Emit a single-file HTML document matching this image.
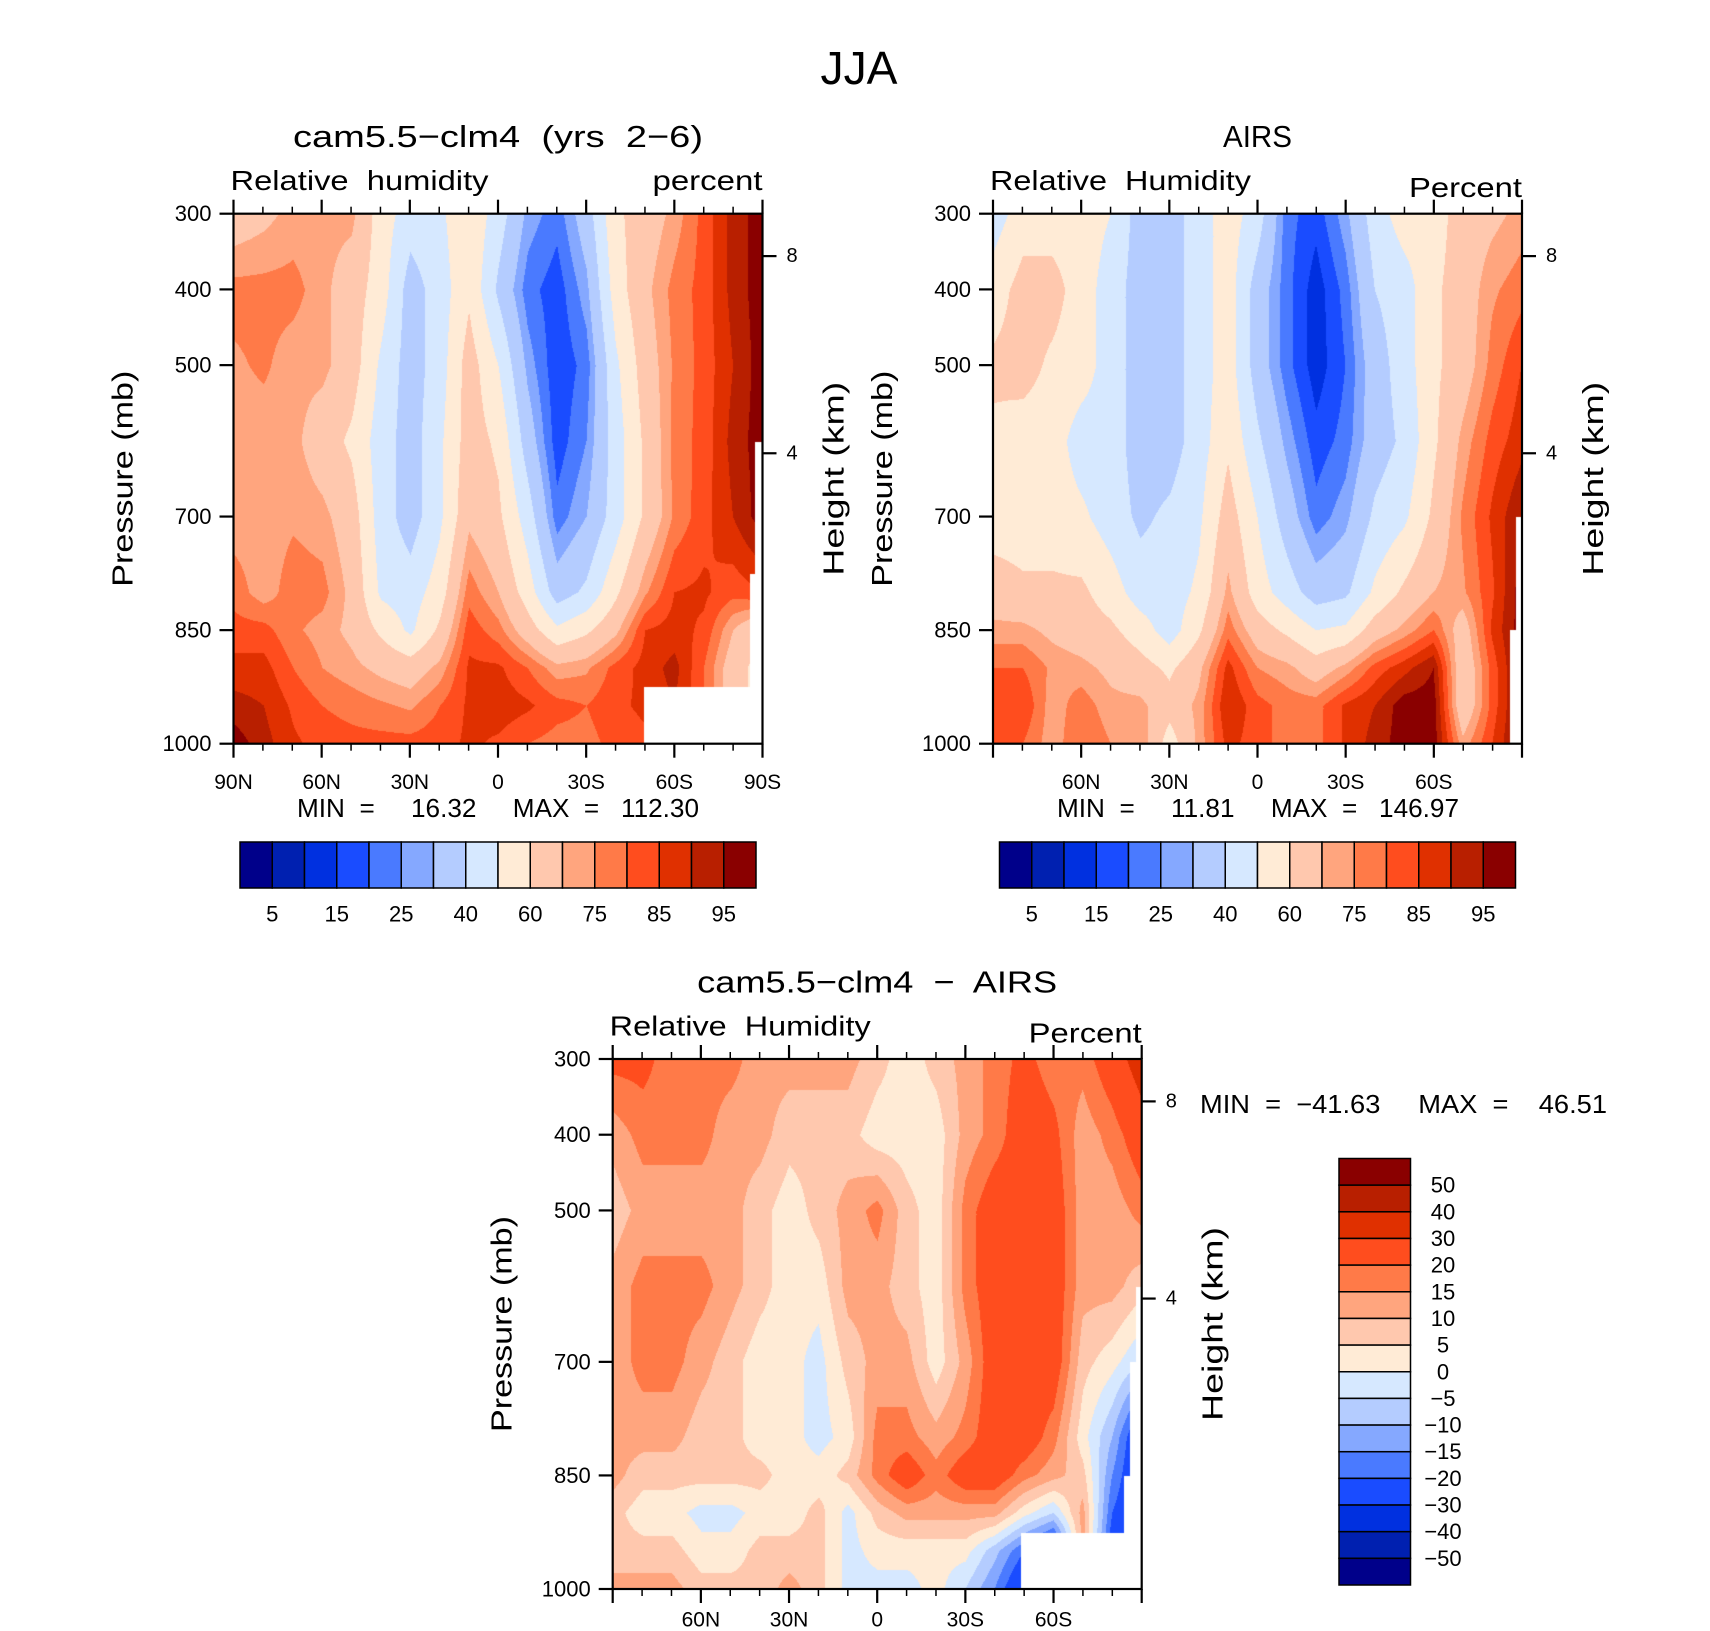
<!DOCTYPE html>
<html><head><meta charset="utf-8">
<style>
html,body{margin:0;padding:0;background:#fff;}
#root{position:relative;width:1710px;height:1631px;overflow:hidden;background:#fff;}
canvas{position:absolute;}
svg{position:absolute;left:0;top:0;}
svg text{font-family:"Liberation Sans",sans-serif;fill:#000;white-space:pre;}
</style></head>
<body>
<div id="root">
<canvas id="c1"></canvas>
<canvas id="c2"></canvas>
<canvas id="c3"></canvas>
<svg id="svg" width="1710" height="1631" xmlns="http://www.w3.org/2000/svg"></svg>
</div>
<script>
// ---- data ----
const lats = [90,80,70,60,50,40,30,20,10,0,-10,-20,-30,-40,-50,-60,-70,-80,-90];
const pressures = [300,400,500,600,700,800,850,900,950,1000];
const absLevels = [5,10,15,20,25,30,40,50,60,70,75,80,85,90,95];
const diffLevels = [-50,-40,-30,-20,-15,-10,-5,0,5,10,15,20,30,40,50];
const palette = ["#00008a","#0020b0","#0030e0","#1a4cff","#4a7aff","#85a8ff","#b4ccff","#d6e8ff","#ffebd6","#ffc8ae","#ffa57e","#ff7a48","#ff4d1e","#e03000","#b81f00","#8a0000"];
const absBarLabels = ["5","15","25","40","60","75","85","95"];
const diffBarLabels = ["50","40","30","20","15","10","5","0","\u22125","\u221210","\u221215","\u221220","\u221230","\u221240","\u221250"];
const latTickLabels = ["90N","60N","30N","0","30S","60S","90S"];
const latTickValues = [90,60,30,0,-30,-60,-90];
const pressureTicks = [300,400,500,700,850,1000];
const heightTicks = [8,4];
// model values: columns (lat 90N..90S), each listing pressures 300..1000
const modelValues = [
[65,77,74,72,72,78,82,87,92,98],
[68,77,76,72,72,72,82,87,90,92],
[72,77,72,72,74,78,76,80,84,86],
[72,72,72,65,72,77,73,75,80,83],
[72,65,65,58,65,68,68,72,78,82],
[55,55,48,45,45,48,58,68,76,82],
[45,35,35,35,35,45,48,65,74,82],
[48,45,45,48,48,55,62,72,80,83],
[58,58,65,65,68,78,83,86,86,86],
[45,38,50,58,62,70,77,86,88,84],
[28,22,28,35,45,55,65,80,86,80],
[22,17,16,17,22,35,52,72,82,78],
[35,28,22,25,30,42,58,74,80,78],
[58,55,48,45,45,58,68,82,84,82],
[65,68,65,62,62,74,85,87,86,84],
[72,77,76,77,76,85,87,92,90,88],
[82,82,82,82,83,86,84,80,80,80],
[92,92,90,92,90,82,70,65,65,65],
[98,98,98,98,98,85,60,55,55,55]];
const airsValues = [
[45,55,62,58,55,65,72,80,80,80],
[55,64,64,55,55,62,72,80,85,80],
[55,64,58,55,55,62,68,74,72,72],
[55,55,55,45,52,62,65,72,78,80],
[50,45,45,45,45,55,62,68,72,75],
[35,35,35,35,38,45,55,64,72,75],
[35,35,35,35,42,45,45,58,64,55],
[45,45,45,45,48,52,58,68,72,72],
[55,55,55,58,65,72,78,87,90,87],
[45,35,35,42,50,55,65,75,82,82],
[22,22,22,28,35,45,58,72,78,78],
[17,12,12,17,22,35,50,65,78,78],
[28,22,20,22,28,38,52,72,86,86],
[45,40,35,35,42,52,65,82,90,92],
[55,45,45,42,48,62,72,88,98,98],
[55,58,58,58,62,70,80,95,98,98],
[65,65,65,72,76,74,65,62,62,72],
[68,74,77,82,86,84,86,82,82,85],
[72,78,85,88,95,98,98,98,98,98]];
const diffValues = [
[22,12,7,12,12,12,12,7,7,12],
[22,17,12,17,17,12,7,2,7,12],
[17,17,12,17,17,12,7,2,7,12],
[17,17,12,17,12,7,7,-2,2,7],
[17,12,12,12,7,7,7,-2,2,7],
[12,12,7,7,2,2,7,2,7,7],
[12,7,2,2,2,2,2,2,7,12],
[12,7,7,2,-2,-2,2,7,7,7],
[12,7,12,12,7,2,7,-2,-2,-2],
[7,2,17,12,12,17,17,7,2,-2],
[2,2,7,7,12,17,25,12,2,-2],
[7,2,2,2,2,12,17,12,2,2],
[12,12,17,17,12,17,25,12,2,-5],
[17,17,25,25,25,25,25,12,-8,-15],
[22,25,25,25,25,25,17,2,-20,-30],
[17,22,25,25,25,17,12,-5,-30,-35],
[17,12,12,12,7,2,7,12,12,12],
[25,17,12,12,2,-10,-15,-20,-25,-25],
[35,25,17,7,-5,-30,-30,-30,-30,-30]];
// missing-data (below-ground) regions: [lat edge, pressure top]
const maskModel = [[-49.7,925],[-85.7,776],[-87.3,601]];
const maskAirs = [[-86,850],[-88,700]];
const maskDiff = [[-49,927],[-84,851],[-86,700],[-88.2,601]];

// ---- layout ----
const P1 = {x:233.5,y:213.7,w:529,h:530};
const P2 = {x:993,y:213.7,w:529,h:530};
const P3 = {x:612.7,y:1059,w:529,h:530};
const NS="http://www.w3.org/2000/svg";
const svg=document.getElementById('svg');

function xOf(P,lat){return P.x+(90-lat)/180*P.w;}
function yOf(P,p){return P.y+(p-300)/700*P.h;}
function pFromH(h){return 1013.25*Math.pow(1-2.25577e-5*h*1000,5.25588);}

function bin(levels,v){let k=0;while(k<levels.length&&v>=levels[k])k++;return k;}
function hex(c){return [parseInt(c.substr(1,2),16),parseInt(c.substr(3,2),16),parseInt(c.substr(5,2),16)];}
const rgb=palette.map(hex);

function drawField(id,P,vals,levels,mask){
  const cv=document.getElementById(id);
  const W=Math.round(P.w),H=Math.round(P.h);
  cv.width=W;cv.height=H;cv.style.left=P.x+'px';cv.style.top=P.y+'px';
  const ctx=cv.getContext('2d');const img=ctx.createImageData(W,H);
  for(let py=0;py<H;py++){
    const p=300+py/(H-1)*700;
    let j=0;while(j<pressures.length-2&&p>pressures[j+1])j++;
    const ty=(p-pressures[j])/(pressures[j+1]-pressures[j]);
    for(let px=0;px<W;px++){
      const fx=px/(W-1)*(lats.length-1);
      let i=Math.min(Math.floor(fx),lats.length-2);const tx=fx-i;
      const v=(vals[i][j]*(1-tx)+vals[i+1][j]*tx)*(1-ty)+(vals[i][j+1]*(1-tx)+vals[i+1][j+1]*tx)*ty;
      const lat=90-px/(W-1)*180;
      let masked=false;
      for(const m of mask){if(lat<=m[0]&&p>=m[1])masked=true;}
      const o=(py*W+px)*4;
      if(masked){img.data[o]=255;img.data[o+1]=255;img.data[o+2]=255;}
      else{const c=rgb[bin(levels,v)];img.data[o]=c[0];img.data[o+1]=c[1];img.data[o+2]=c[2];}
      img.data[o+3]=255;
    }
  }
  ctx.putImageData(img,0,0);
}
drawField('c1',P1,modelValues,absLevels,maskModel);
drawField('c2',P2,airsValues,absLevels,maskAirs);
drawField('c3',P3,diffValues,diffLevels,maskDiff);

function line(x1,y1,x2,y2,w,name){
  const l=document.createElementNS(NS,'line');
  l.setAttribute('x1',x1);l.setAttribute('y1',y1);l.setAttribute('x2',x2);l.setAttribute('y2',y2);
  l.setAttribute('stroke','#000');l.setAttribute('stroke-width',w);
  
  
  svg.appendChild(l);return l;
}
function text(x,y,s,size,anchor,name,len,rot){
  const t=document.createElementNS(NS,'text');
  t.setAttribute('x',x);t.setAttribute('y',y);t.setAttribute('font-size',size);
  t.setAttribute('text-anchor',anchor);t.setAttribute('dominant-baseline','central');
  if(len){t.setAttribute('textLength',len);t.setAttribute('lengthAdjust','spacingAndGlyphs');}
  if(rot){t.setAttribute('transform','rotate('+rot+' '+x+' '+y+')');}
  t.textContent=s;
  
  
  svg.appendChild(t);return t;
}

function axes(P,opts){
  const r=document.createElementNS(NS,'rect');
  r.setAttribute('x',P.x);r.setAttribute('y',P.y);r.setAttribute('width',P.w);r.setAttribute('height',P.h);
  r.setAttribute('fill','none');r.setAttribute('stroke','#000');r.setAttribute('stroke-width',2.2);
  
  
  svg.appendChild(r);
  for(let lat=90;lat>=-90;lat-=10){
    const x=xOf(P,lat);const major=(lat%30===0);const L=major?14:7;
    line(x,P.y,x,P.y-L,major?2.2:1.5,'top-lat-tick');
    line(x,P.y+P.h,x,P.y+P.h+L,major?2.2:1.5,'bottom-lat-tick');
  }
  latTickLabels.forEach((s,k)=>{
    if(!opts.label90 && Math.abs(latTickValues[k])===90) return;
    text(xOf(P,latTickValues[k]),P.y+P.h+opts.xlOff,s,21,'middle','x-tick-label');
  });
  pressureTicks.forEach(p=>{
    const y=yOf(P,p);
    line(P.x,y,P.x-14,y,2.2,'pressure-tick');
    text(P.x-22,y,String(p),22,'end','pressure-tick-label');
  });
  heightTicks.forEach(h=>{
    const y=yOf(P,pFromH(h));
    line(P.x+P.w,y,P.x+P.w+14,y,2.2,'height-tick');
    text(P.x+P.w+24,y,String(h),20,'start','height-tick-label');
  });
  text(P.x-110,P.y+P.h*0.5,'Pressure (mb)',29,'middle','y-axis-title',216,-90);
  text(P.x+P.w+72,P.y+P.h*0.5,'Height (km)',29,'middle','right-axis-title',194,-90);
  text(P.x-3,P.y-33,opts.left,28,'start','variable-label',opts.leftLen);
  text(P.x+P.w,P.y-33+opts.rdy,opts.right,28,'end','units-label',opts.rightLen);
  text(P.x+P.w/2,P.y-77,opts.title,31,'middle','panel-title',opts.titleLen);
}
axes(P1,{prefix:'model',label90:true,xlOff:39,left:'Relative  humidity',leftLen:258,right:'percent',rightLen:110,rdy:0,title:'cam5.5\u2212clm4  (yrs  2\u22126)',titleLen:410});
axes(P2,{prefix:'airs',label90:false,xlOff:39,left:'Relative  Humidity',leftLen:261,right:'Percent',rightLen:113,rdy:7,title:'AIRS',titleLen:69});
axes(P3,{prefix:'diff',label90:false,xlOff:31,left:'Relative  Humidity',leftLen:261,right:'Percent',rightLen:113,rdy:7,title:'cam5.5\u2212clm4  \u2212  AIRS',titleLen:360});
text(859,68,'JJA',46,'middle','figure-title',77);

text(297,808,'MIN  =     16.32     MAX  =   112.30',26,'start','model-min-max',402);
text(1057,808,'MIN  =     11.81     MAX  =   146.97',26,'start','airs-min-max',402);
text(1200,1104,'MIN  =  \u221241.63     MAX  =    46.51',26,'start','diff-min-max',407);

function hbar(x0,y0,w,h,prefix){
  const bw=w/palette.length;
  palette.forEach((c,i)=>{
    const r=document.createElementNS(NS,'rect');
    r.setAttribute('x',x0+i*bw);r.setAttribute('y',y0);r.setAttribute('width',bw);r.setAttribute('height',h);
    r.setAttribute('fill',c);r.setAttribute('stroke','#000');r.setAttribute('stroke-width',1.5);
    
    
    svg.appendChild(r);
  });
  absBarLabels.forEach((s,k)=>{
    text(x0+(2*k+1)*bw,y0+h+26,s,22,'middle',prefix+'-colorbar-label');
  });
}
hbar(240,842,516,46,'model');
hbar(999.5,842,516,46,'airs');

(function vbar(){
  const x0=1339,y0=1158.5,w=71.5,h=426.5,bh=h/palette.length;
  for(let k=0;k<palette.length;k++){
    const r=document.createElementNS(NS,'rect');
    r.setAttribute('x',x0);r.setAttribute('y',y0+k*bh);r.setAttribute('width',w);r.setAttribute('height',bh);
    r.setAttribute('fill',palette[palette.length-1-k]);r.setAttribute('stroke','#000');r.setAttribute('stroke-width',1.5);
    
    
    svg.appendChild(r);
  }
  diffBarLabels.forEach((s,k)=>{
    text(1443,y0+(k+1)*bh,s,22,'middle','diff-colorbar-label');
  });
})();
</script>
</body></html>
